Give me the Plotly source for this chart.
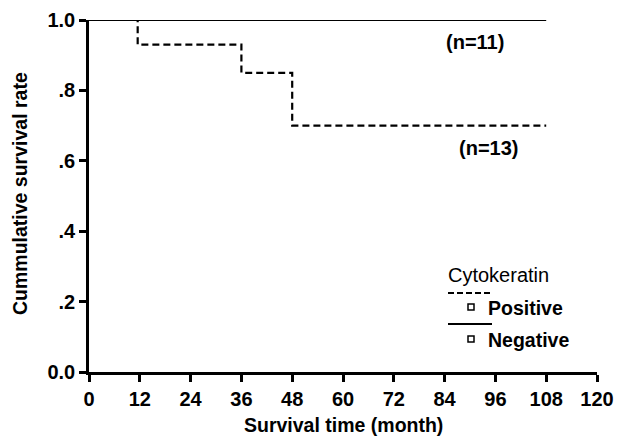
import plotly.graph_objects as go

# Data
neg_time = [0, 108]
neg_surv = [1.0, 1.0]
pos_time = [0, 11.5, 36, 48, 108]
pos_surv = [1.0, 0.93, 0.85, 0.70, 0.70]

x_ticks = [0, 12, 24, 36, 48, 60, 72, 84, 96, 108, 120]
y_ticks = [0.0, 0.2, 0.4, 0.6, 0.8, 1.0]
y_ticktext = ["0.0", ".2", ".4", ".6", ".8", "1.0"]

FONT = "Liberation Sans"
W, H = 627, 439
L, R, T, B = 89, 30, 20, 67
PW, PH = W - L - R, H - T - B
OFF = 0  # page body margin removed via post_script


def px_x(p):
    return (p - OFF - L) / PW


def px_y(p):
    return (H - B - (p - OFF)) / PH


fig = go.Figure()
fig.add_trace(go.Scatter(x=neg_time, y=neg_surv, mode="lines", line_shape="hv",
                         line=dict(color="black", width=2.2), showlegend=False))
fig.add_trace(go.Scatter(x=pos_time, y=pos_surv, mode="lines", line_shape="hv",
                         line=dict(color="black", width=2.2, dash="7px,4px"), showlegend=False))

axis_common = dict(ticks="outside", ticklen=7, tickwidth=2.5, tickcolor="black",
                   showline=True, linewidth=2.5, linecolor="black", showgrid=False,
                   zeroline=False, automargin=False,
                   tickfont=dict(family=FONT, size=20, color="black"))

fig.update_layout(
    width=W, height=H,
    margin=dict(l=L, r=R, t=T, b=B, autoexpand=False),
    plot_bgcolor="white", paper_bgcolor="white",
    font=dict(family=FONT, size=20, color="black"),
    xaxis=dict(range=[0, 120], tickvals=x_ticks,
               ticktext=[f"<b>{v}</b>" for v in x_ticks], **axis_common),
    yaxis=dict(range=[0, 1], tickvals=y_ticks,
               ticktext=[f"<b>{t}</b>" for t in y_ticktext], **axis_common),
)


def note(xp, yp, text, size=20, xanchor="center", angle=0):
    fig.add_annotation(x=px_x(xp), y=px_y(yp), xref="paper", yref="paper",
                       xanchor=xanchor, yanchor="middle", text=text, showarrow=False,
                       textangle=angle, font=dict(size=size))


# Axis titles
note(343, 425, "<b>Survival time (month)</b>", size=19.5)
note(20, 194, "<b>Cummulative survival rate</b>", size=19.5, angle=-90)

# n labels
fig.add_annotation(x=91.1, y=0.9375, xref="x", yref="y", text="<b>(n=11)</b>", showarrow=False,
                   xanchor="center", yanchor="middle", font=dict(size=20))
fig.add_annotation(x=94.4, y=0.636, xref="x", yref="y", text="<b>(n=13)</b>", showarrow=False,
                   xanchor="center", yanchor="middle", font=dict(size=20))

# Legend (drawn manually)
note(446, 275, "Cytokeratin", size=20, xanchor="left")
fig.add_shape(type="line", xref="paper", yref="paper", x0=px_x(448), x1=px_x(492),
              y0=px_y(293), y1=px_y(293), line=dict(color="black", width=2, dash="6px,3px"))
fig.add_shape(type="line", xref="paper", yref="paper", x0=px_x(448), x1=px_x(492),
              y0=px_y(324), y1=px_y(324), line=dict(color="black", width=2))
for yc in (307, 339):
    fig.add_shape(type="rect", xref="paper", yref="paper", x0=px_x(468), x1=px_x(474),
                  y0=px_y(yc + 3), y1=px_y(yc - 3), line=dict(color="black", width=1.5))
note(486, 308, "<b>Positive</b>", size=19.5, xanchor="left")
note(486, 340, "<b>Negative</b>", size=19.5, xanchor="left")

fig.write_html("out.html", config={"displayModeBar": False},
               post_script="document.body.style.margin='0px';document.body.style.overflow='hidden';")
